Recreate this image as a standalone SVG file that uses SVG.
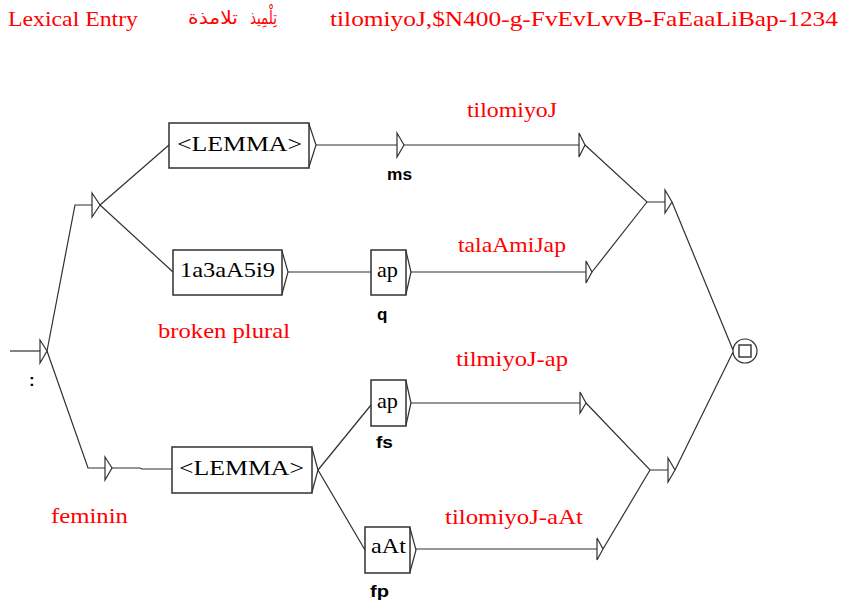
<svg xmlns="http://www.w3.org/2000/svg" width="845" height="603" viewBox="0 0 845 603">
<style>
.bg{fill:#fff}
.ln{fill:none;stroke:#303030;stroke-width:1.2}
.tri{fill:#fff;stroke:#303030;stroke-width:1.2;stroke-linejoin:miter}
.box{fill:#fff;stroke:#303030;stroke-width:1.5}
.bt{font-family:"Liberation Serif",serif;font-size:21px;fill:#000}
.rt{font-family:"Liberation Serif",serif;font-size:21px;fill:#ff0000}
.ar{font-family:"DejaVu Sans","Noto Sans",sans-serif;font-size:18px;fill:#ff0000}
.ot{font-family:"Liberation Sans",Arial,sans-serif;font-size:17px;font-weight:bold;fill:#000}
</style>
<rect class="bg" x="0" y="0" width="845" height="603"/>

<g id="header">
<text class="rt" x="8" y="26" textLength="130" lengthAdjust="spacingAndGlyphs">Lexical Entry</text>
<text class="ar" x="250" y="24" textLength="27" lengthAdjust="spacingAndGlyphs">تِلْمِيذ</text>
<text class="ar" x="188" y="24" textLength="50" lengthAdjust="spacingAndGlyphs">تلامذة</text>
<text class="rt" x="330" y="26" textLength="508" lengthAdjust="spacingAndGlyphs">tilomiyoJ,$N400-g-FvEvLvvB-FaEaaLiBap-1234</text>
</g>

<g id="connectors">
<path class="ln" d="M10,351 H40"/>
<path class="ln" d="M47,351 L75,205 H92"/>
<path class="ln" d="M100,205 L169,145"/>
<path class="ln" d="M100,205 L173,272"/>
<path class="ln" d="M316,145 H397"/>
<path class="ln" d="M404,145 H579"/>
<path class="ln" d="M585,145 L647,202 H665"/>
<path class="ln" d="M672,202 L733,350"/>
<path class="ln" d="M288,272 H371"/>
<path class="ln" d="M411,272 H586"/>
<path class="ln" d="M592,272 L647,202"/>
<path class="ln" d="M47,351 L88,468 H105"/>
<path class="ln" d="M112,468 H140 L142,469 H172"/>
<path class="ln" d="M318,470 L371,405"/>
<path class="ln" d="M318,470 L365,550"/>
<path class="ln" d="M411,403 H580"/>
<path class="ln" d="M586,403 L650,470 H668"/>
<path class="ln" d="M675,470 L733,352"/>
<path class="ln" d="M416,549 H597"/>
<path class="ln" d="M603,549 L650,470"/>
</g>

<g id="initial">
<polygon class="tri" points="40,340 47,351 40,363"/>
<text class="ot" x="29" y="386">:</text>
</g>
<g id="split1"><polygon class="tri" points="92,193 100,205 92,217"/></g>
<g id="split2"><polygon class="tri" points="105,457 112,468 105,480"/></g>

<g id="lemma1">
<rect class="box" x="169" y="123" width="140" height="45"/>
<polyline class="ln" points="309,124 316,145 309,167"/>
<text class="bt" x="177" y="151" textLength="125" lengthAdjust="spacingAndGlyphs">&lt;LEMMA&gt;</text>
</g>
<g id="ms">
<polygon class="tri" points="397,133 404,145 397,157"/>
<text class="ot" x="387" y="180" textLength="25" lengthAdjust="spacingAndGlyphs">ms</text>
</g>

<g id="broken">
<rect class="box" x="173" y="250" width="109" height="45"/>
<polyline class="ln" points="282,251 288,272 282,294"/>
<text class="bt" x="180" y="277" textLength="95" lengthAdjust="spacingAndGlyphs">1a3aA5i9</text>
</g>
<g id="apq">
<rect class="box" x="371" y="250" width="35" height="45"/>
<polyline class="ln" points="406,251 411,272 406,294"/>
<text class="bt" x="377" y="277" textLength="21" lengthAdjust="spacingAndGlyphs">ap</text>
<text class="ot" x="377" y="320">q</text>
</g>

<g id="lemma2">
<rect class="box" x="172" y="447" width="140" height="46"/>
<polyline class="ln" points="312,448 318,470 312,492"/>
<text class="bt" x="179" y="475" textLength="125" lengthAdjust="spacingAndGlyphs">&lt;LEMMA&gt;</text>
</g>
<g id="apfs">
<rect class="box" x="371" y="380" width="35" height="46"/>
<polyline class="ln" points="406,381 411,403 406,425"/>
<text class="bt" x="377" y="408" textLength="21" lengthAdjust="spacingAndGlyphs">ap</text>
<text class="ot" x="376" y="448" textLength="17" lengthAdjust="spacingAndGlyphs">fs</text>
</g>
<g id="aAt">
<rect class="box" x="365" y="527" width="45" height="46"/>
<polyline class="ln" points="410,528 416,550 410,572"/>
<text class="bt" x="371" y="553" textLength="35" lengthAdjust="spacingAndGlyphs">aAt</text>
<text class="ot" x="370" y="597" textLength="19" lengthAdjust="spacingAndGlyphs">fp</text>
</g>

<g id="out1">
<polygon class="tri" points="579,133 585,145 579,157"/>
<text class="rt" x="467" y="117" textLength="90" lengthAdjust="spacingAndGlyphs">tilomiyoJ</text>
</g>
<g id="out2">
<polygon class="tri" points="586,261 592,272 586,283"/>
<text class="rt" x="458" y="252" textLength="108" lengthAdjust="spacingAndGlyphs">talaAmiJap</text>
</g>
<g id="out3">
<polygon class="tri" points="580,392 586,403 580,413"/>
<text class="rt" x="456" y="366" textLength="112" lengthAdjust="spacingAndGlyphs">tilmiyoJ-ap</text>
</g>
<g id="out4">
<polygon class="tri" points="597,538 603,549 597,560"/>
<text class="rt" x="445" y="524" textLength="138" lengthAdjust="spacingAndGlyphs">tilomiyoJ-aAt</text>
</g>
<g id="merge1"><polygon class="tri" points="665,190 672,202 665,213"/></g>
<g id="merge2"><polygon class="tri" points="668,458 675,470 668,482"/></g>

<g id="labels">
<text class="rt" x="158" y="338" textLength="132" lengthAdjust="spacingAndGlyphs">broken plural</text>
<text class="rt" x="51" y="523" textLength="77" lengthAdjust="spacingAndGlyphs">feminin</text>
</g>

<g id="final">
<circle cx="745" cy="351" r="12" fill="#fff" stroke="#303030" stroke-width="1.2"/>
<rect x="739" y="345" width="12" height="12" fill="none" stroke="#303030" stroke-width="1.4"/>
</g>
</svg>
